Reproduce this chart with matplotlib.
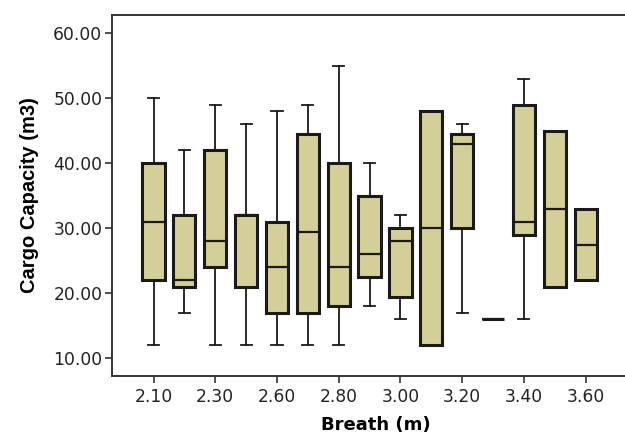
import matplotlib.pyplot as plt
import numpy as np

plt.rcParams['font.family'] = ['DejaVu Sans']

# Breadth groups and their five-number summaries (cargo capacity, m3)
breadths = ['2.10', '2.20', '2.30', '2.40', '2.60', '2.70', '2.80', '2.90',
            '3.00', '3.10', '3.20', '3.30', '3.40', '3.50', '3.60']
whisk_lo = [12, 17, 12, 12, 12, 12, 12, 18, 16, 12, 17, 16, 16, 21, 22]
q1 = [22, 21, 24, 21, 17, 17, 18, 22.5, 19.5, 12, 30, 16, 29, 21, 22]
median = [31, 22, 28, 32, 24, 29.5, 24, 26, 28, 30, 43, 16, 31, 33, 27.5]
q3 = [40, 32, 42, 32, 31, 44.5, 40, 35, 30, 48, 44.5, 16, 49, 45, 33]
whisk_hi = [50, 42, 49, 46, 48, 49, 55, 40, 32, 48, 46, 16, 53, 45, 33]
y_ticks = [10, 20, 30, 40, 50, 60]

stats = [dict(whislo=a, q1=b, med=c, q3=d, whishi=e, label=lab)
         for a, b, c, d, e, lab in zip(whisk_lo, q1, median, q3, whisk_hi, breadths)]

fig = plt.figure(figsize=(6.25, 4.37), dpi=100)
ax = fig.add_axes([0.1792, 0.1396, 0.8448, 0.8261])

pos = np.arange(len(breadths))
edge = '#1a1a1a'
ax.bxp(stats, positions=pos, widths=0.72, showfliers=False, patch_artist=True,
       boxprops=dict(facecolor='#d4cf98', edgecolor=edge, linewidth=2.2),
       medianprops=dict(color=edge, linewidth=1.6),
       whiskerprops=dict(color=edge, linewidth=1.3),
       capprops=dict(color=edge, linewidth=1.3))

ax.set_xlim(-1.345, 15.76)
ax.set_ylim(7.3, 62.8)

ax.set_xticks(pos[::2])
ax.set_xticklabels(breadths[::2])
ax.set_yticks(y_ticks)
ax.set_yticklabels([f'{v:.2f}' for v in y_ticks])
ax.tick_params(axis='both', labelsize=12.3, colors='#222222', length=5, width=1.1)
ax.tick_params(axis='x', pad=4)
ax.tick_params(axis='y', pad=2)

for side in ['left', 'bottom', 'top']:
    ax.spines[side].set_color('#333333')
    ax.spines[side].set_linewidth(1.4)
ax.spines['right'].set_visible(False)

ax.set_xlabel('Breath (m)', fontsize=13, fontweight='bold', labelpad=7)
ax.set_ylabel('Cargo Capacity (m3)', fontsize=14.5, fontweight='bold', labelpad=10,
              family='Liberation Sans')

fig.savefig('out.png', dpi=100)
